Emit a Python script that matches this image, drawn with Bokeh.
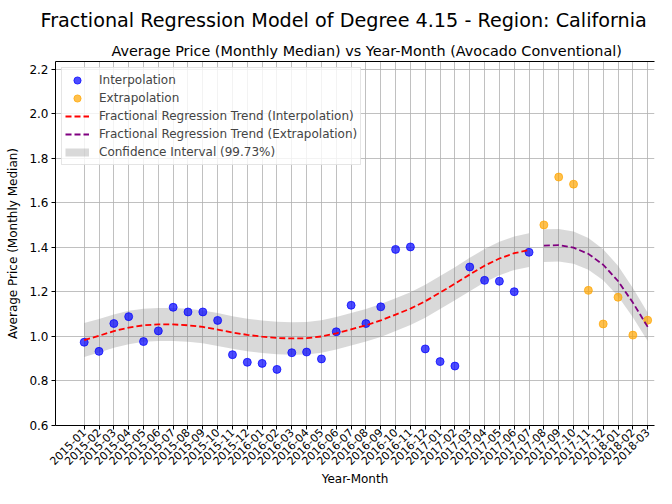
import math
from bokeh.plotting import figure
from bokeh.models import (ColumnDataSource, FixedTicker, Range1d, Legend,
                          LegendItem, Title, LinearAxis)
from bokeh.embed import file_html
from bokeh.resources import INLINE

# ---------------- data ----------------
months = ["2015-01", "2015-02", "2015-03", "2015-04", "2015-05", "2015-06",
          "2015-07", "2015-08", "2015-09", "2015-10", "2015-11", "2015-12",
          "2016-01", "2016-02", "2016-03", "2016-04", "2016-05", "2016-06",
          "2016-07", "2016-08", "2016-09", "2016-10", "2016-11", "2016-12",
          "2017-01", "2017-02", "2017-03", "2017-04", "2017-05", "2017-06",
          "2017-07", "2017-08", "2017-09", "2017-10", "2017-11", "2017-12",
          "2018-01", "2018-02", "2018-03"]

interp_months = months[:31]
interp_price = [0.974, 0.933, 1.058, 1.089, 0.977, 1.025, 1.131, 1.110,
                1.110, 1.072, 0.918, 0.884, 0.879, 0.852, 0.927, 0.930,
                0.899, 1.021, 1.140, 1.058, 1.133, 1.391, 1.402, 0.944,
                0.887, 0.867, 1.312, 1.252, 1.248, 1.201, 1.378]
interp_trend = [0.984, 1.003, 1.024, 1.040, 1.050, 1.054, 1.054, 1.050,
                1.043, 1.031, 1.018, 1.007, 0.999, 0.993, 0.991, 0.992,
                1.000, 1.014, 1.032, 1.050, 1.072, 1.098, 1.125, 1.158,
                1.197, 1.237, 1.278, 1.318, 1.350, 1.374, 1.388]
interp_ci = [0.076, 0.075, 0.075, 0.075, 0.074, 0.074, 0.074, 0.074,
             0.074, 0.074, 0.073, 0.073, 0.073, 0.073, 0.073, 0.073,
             0.073, 0.073, 0.073, 0.073, 0.074, 0.074, 0.074, 0.074,
             0.074, 0.074, 0.075, 0.075, 0.075, 0.075, 0.076]

extrap_months = months[31:]
extrap_price = [1.501, 1.716, 1.684, 1.207, 1.056, 1.176, 1.006, 1.073]
extrap_trend = [1.408, 1.410, 1.399, 1.371, 1.322, 1.249, 1.152, 1.043]
extrap_ci = [0.074, 0.073, 0.072, 0.071, 0.070, 0.068, 0.066, 0.064]

y_ticks = [0.6, 0.8, 1.0, 1.2, 1.4, 1.6, 1.8, 2.0, 2.2]
y_tick_labels = ["0.6", "0.8", "1.0", "1.2", "1.4", "1.6", "1.8", "2.0", "2.2"]

# ---------------- sources ----------------
idx = {m: i for i, m in enumerate(months)}
src_i = ColumnDataSource(dict(
    x=[idx[m] for m in interp_months], price=interp_price, trend=interp_trend,
    lo=[t - c for t, c in zip(interp_trend, interp_ci)],
    hi=[t + c for t, c in zip(interp_trend, interp_ci)]))
src_e = ColumnDataSource(dict(
    x=[idx[m] for m in extrap_months], price=extrap_price, trend=extrap_trend,
    lo=[t - c for t, c in zip(extrap_trend, extrap_ci)],
    hi=[t + c for t, c in zip(extrap_trend, extrap_ci)]))
# legend-only swatch source (draws nothing in the plot)
src_key = ColumnDataSource(dict(x=[float("nan")], y=[float("nan")]))

FONT = "DejaVu Sans"

p = figure(width=656, height=488, output_backend="svg", toolbar_location=None,
           x_range=Range1d(-1.935, 38.46), y_range=Range1d(0.6, 2.235),
           min_border_left=55, min_border_right=2, min_border_top=61,
           min_border_bottom=40, title=None)
p.outline_line_color = None
p.background_fill_color = "white"
p.border_fill_color = "white"

# grid
p.grid.grid_line_color = "#b0b0b0"
p.grid.grid_line_alpha = 0.8
p.grid.grid_line_width = 1

# bands
band_i = p.varea(x="x", y1="lo", y2="hi", source=src_i,
                 fill_color="gray", fill_alpha=0.3)
band_e = p.varea(x="x", y1="lo", y2="hi", source=src_e,
                 fill_color="gray", fill_alpha=0.3)
band_key = p.line(x="x", y="y", source=src_key, line_color="gray",
                  line_alpha=0.3, line_width=8)

# points
pts_i = p.scatter(x="x", y="price", source=src_i, size=8,
                  fill_color="blue", fill_alpha=0.7,
                  line_color="blue", line_alpha=0.7)
pts_e = p.scatter(x="x", y="price", source=src_e, size=8,
                  fill_color="orange", fill_alpha=0.7,
                  line_color="orange", line_alpha=0.7)

# trends
ln_i = p.line(x="x", y="trend", source=src_i, line_color="red",
              line_width=1.8, line_dash="6 3")
ln_e = p.line(x="x", y="trend", source=src_e, line_color="purple",
              line_width=1.8, line_dash="6 3")

# axes
xa = p.xaxis[0]
xa.ticker = FixedTicker(ticks=list(range(len(months))))
xa.major_label_overrides = {i: m for i, m in enumerate(months)}
xa.major_label_orientation = math.pi / 4
xa.axis_label = "Year-Month"

ya = p.yaxis[0]
ya.ticker = FixedTicker(ticks=y_ticks)
ya.major_label_overrides = {t: l for t, l in zip(y_ticks, y_tick_labels)}
ya.axis_label = "Average Price (Monthly Median)"

for ax in (xa, ya):
    ax.major_label_text_font = FONT
    ax.major_label_text_color = "black"
    ax.axis_label_text_font = FONT
    ax.axis_label_text_font_size = "12px"
    ax.axis_label_text_font_style = "normal"
    ax.axis_label_text_color = "black"
    ax.axis_line_color = "black"
    ax.major_tick_line_color = "black"
    ax.major_tick_out = 4
    ax.major_tick_in = 0
    ax.minor_tick_line_color = None

xa.major_label_text_font_size = "11px"
xa.major_label_standoff = 1
xa.axis_label_standoff = 0
ya.major_label_text_font_size = "12px"
ya.major_label_standoff = 3
ya.axis_label_standoff = 6

# top spine
top = LinearAxis(ticker=FixedTicker(ticks=[]), major_label_text_font_size="0px",
                 major_tick_line_color=None, minor_tick_line_color=None,
                 axis_line_color="black", major_label_standoff=0)
p.add_layout(top, "above")

# titles
sub = Title(text="Average Price (Monthly Median) vs Year-Month (Avocado Conventional)",
            align="left", text_font=FONT, text_font_size="14.4px",
            text_font_style="normal", text_color="black", standoff=5, offset=56)
p.add_layout(sub, "above")
main = Title(text="Fractional Regression Model of Degree 4.15 - Region: California",
             align="left", text_font=FONT, text_font_size="19.2px",
             text_font_style="normal", text_color="black", standoff=13, offset=-15)
p.add_layout(main, "above")

# legend
legend = Legend(items=[
    LegendItem(label="Interpolation", renderers=[pts_i]),
    LegendItem(label="Extrapolation", renderers=[pts_e]),
    LegendItem(label="Fractional Regression Trend (Interpolation)", renderers=[ln_i]),
    LegendItem(label="Fractional Regression Trend (Extrapolation)", renderers=[ln_e]),
    LegendItem(label="Confidence Interval (99.73%)", renderers=[band_key]),
], location="top_left")
legend.label_text_font = FONT
legend.label_text_font_size = "12px"
legend.glyph_width = 24
legend.glyph_height = 18
legend.label_height = 18
legend.spacing = 0
legend.padding = 3
legend.margin = 6
legend.label_standoff = 10
legend.border_line_color = "#cccccc"
legend.background_fill_alpha = 0.8
p.add_layout(legend)

open("out.html", "w").write(file_html(p, INLINE))
